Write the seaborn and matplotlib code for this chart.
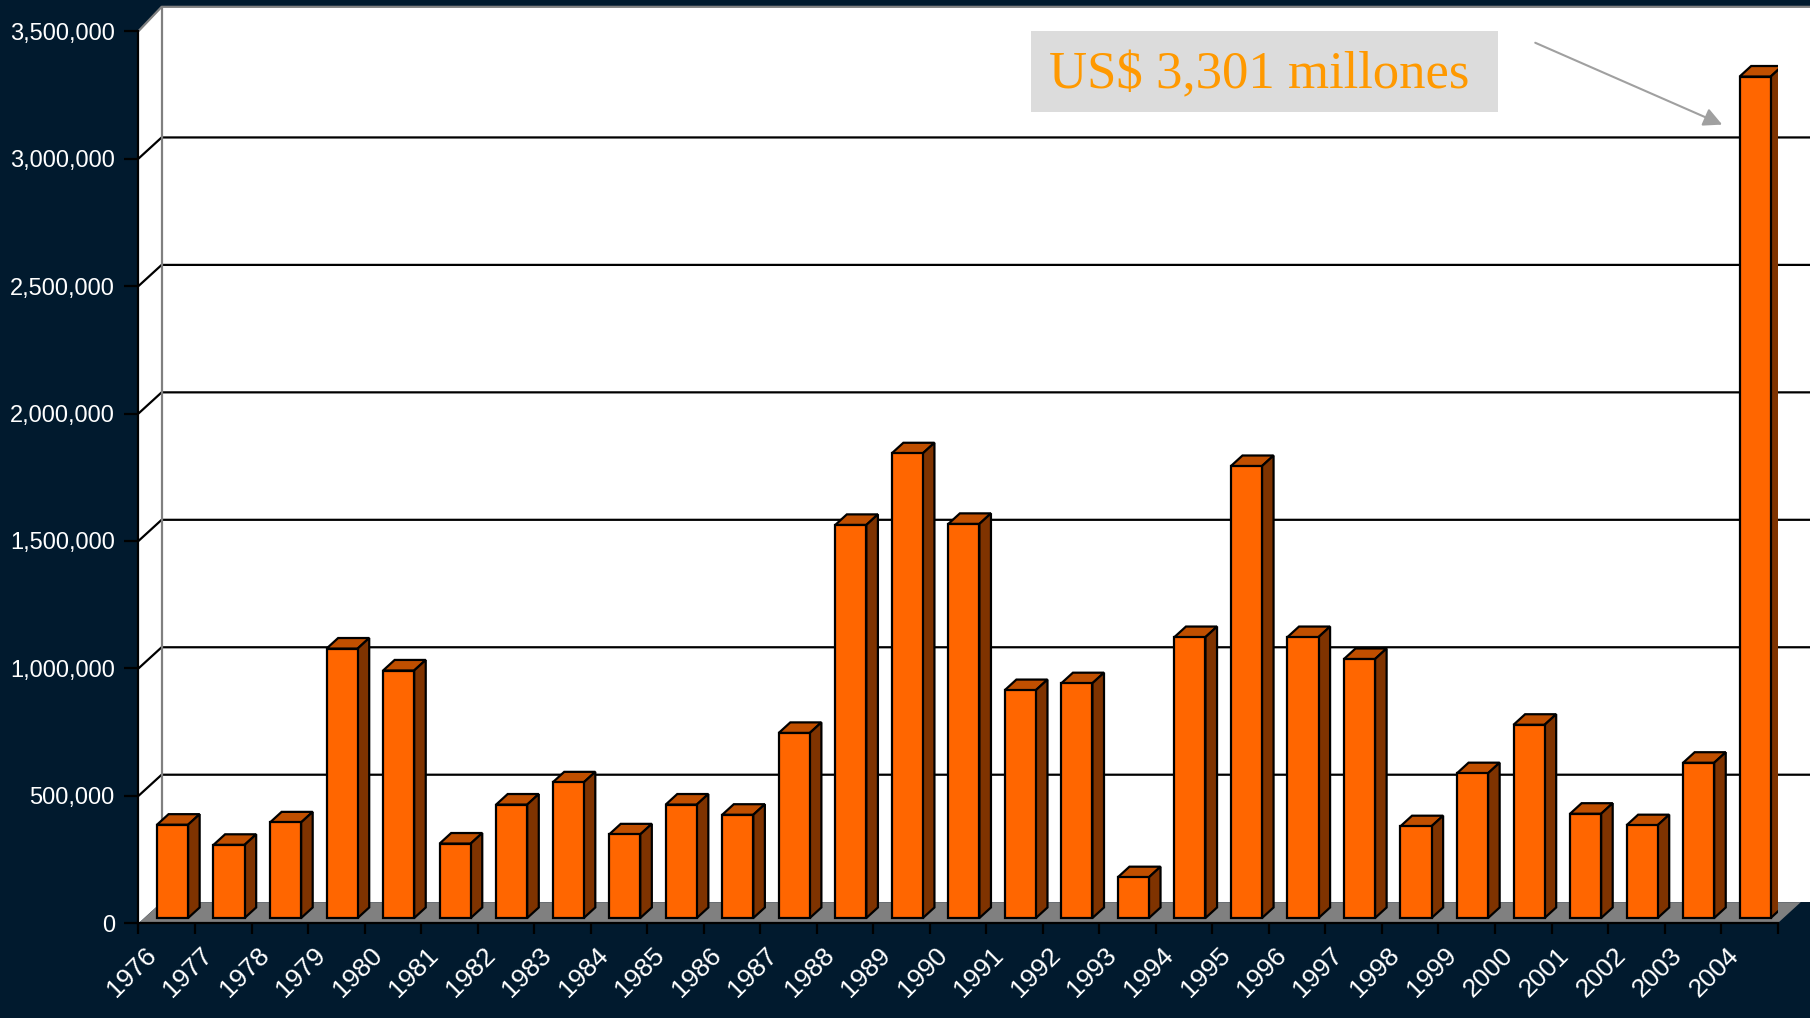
#%%
import matplotlib
matplotlib.use("Agg")
import matplotlib.pyplot as plt
import matplotlib.transforms as mtransforms
from matplotlib.patches import Polygon, Rectangle, FancyArrowPatch
import seaborn as sns
import numpy as np
import pandas as pd

#%%
# values (US$ thousands per year)
years = ["1976", "1977", "1978", "1979", "1980", "1981", "1982", "1983", "1984", "1985",
         "1986", "1987", "1988", "1989", "1990", "1991", "1992", "1993", "1994", "1995",
         "1996", "1997", "1998", "1999", "2000", "2001", "2002", "2003", "2004"]
values = [366000, 287000, 375000, 1057000, 971000, 292000, 445000, 532000, 328000, 445000,
          405000, 726000, 1542000, 1823000, 1546000, 894000, 921000, 160000, 1102000, 1773000,
          1102000, 1016000, 360000, 568000, 758000, 409000, 364000, 609000, 3301000]
yticks = [0, 500000, 1000000, 1500000, 2000000, 2500000, 3000000, 3500000]
ytick_labels = ["0", "500,000", "1,000,000", "1,500,000", "2,000,000", "2,500,000",
                "3,000,000", "3,500,000"]
note_text = "US$ 3,301 millones"

df = pd.DataFrame({"year": years, "value": values})

#%%
sns.set_theme(style="white")
plt.rcParams['font.family'] = ['Liberation Sans', 'DejaVu Sans']

bg = "#011a2e"
front = "#ff6600"
top_c = "#c04f00"
side_c = "#7f3300"
edge_lw = 1.6

fig = plt.figure(figsize=(18.1, 10.18), dpi=100, facecolor=bg)
ax = fig.add_axes([0.0765, 0.0930, 0.9056, 0.8764])
ax.set_facecolor("none")

sns.barplot(data=df, x="year", y="value", color=front, saturation=1, width=0.55,
            edgecolor="black", linewidth=edge_lw, ax=ax, zorder=4)
bars = list(ax.patches)

n = len(years)
ymax = yticks[-1]
dx, dy = 0.41, 83000      # depth of the fake 3d box in data units
xl, xr = -0.5, n - 0.5
ax.set_xlim(xl, xr)
ax.set_ylim(0, ymax)

#%%
# walls and floor
ax.add_patch(Polygon([(xl, 0), (xl + dx, dy), (xl + dx, ymax + dy * 1.15), (xl, ymax)],
                     fc="white", ec="none", zorder=0.5, clip_on=False))
ax.add_patch(Polygon([(xl + dx, dy), (xr + 2, dy), (xr + 2, ymax + dy * 1.15),
                      (xl + dx, ymax + dy * 1.15)],
                     fc="white", ec="none", zorder=0.5, clip_on=False))
for t in yticks[1:-1]:
    ax.plot([xl, xl + dx, xr + 2], [t, t + dy, t + dy], color="black", lw=edge_lw,
            zorder=1, clip_on=False)
ax.plot([xl, xl + dx, xr + 2], [ymax, ymax + dy * 1.15, ymax + dy * 1.15], color="#808080",
        lw=edge_lw, zorder=1, clip_on=False)
ax.plot([xl + dx, xl + dx], [dy, ymax + dy * 1.15], color="#808080", lw=edge_lw, zorder=1,
        clip_on=False)
ax.add_patch(Polygon([(xl, 0), (xr, 0), (xr + dx, dy), (xl + dx, dy)],
                     fc="#808080", ec="none", zorder=1.5, clip_on=False))

# push the bars into the middle of the box and add top/side faces
for p in bars:
    p.set_x(p.get_x() + dx / 4)
    p.set_y(dy / 4)
    x0, x1 = p.get_x(), p.get_x() + p.get_width()
    y0, y1 = p.get_y(), p.get_y() + p.get_height()
    top = [(x0, y1), (x0 + dx / 2, y1 + dy / 2), (x1 + dx / 2, y1 + dy / 2), (x1, y1)]
    side = [(x1, y0), (x1 + dx / 2, y0 + dy / 2), (x1 + dx / 2, y1 + dy / 2), (x1, y1)]
    ax.add_patch(Polygon(top, fc=top_c, ec="black", lw=edge_lw, zorder=3, joinstyle="miter"))
    ax.add_patch(Polygon(side, fc=side_c, ec="black", lw=edge_lw, zorder=3, joinstyle="miter"))

#%%
for s in ["top", "right"]:
    ax.spines[s].set_visible(False)
for s in ["left", "bottom"]:
    ax.spines[s].set_color("black")
    ax.spines[s].set_linewidth(edge_lw)
    ax.spines[s].set_zorder(2)

ax.set_xlabel("")
ax.set_ylabel("")
ax.set_yticks(yticks, ytick_labels)
ax.tick_params(axis="y", direction="out", left=True, length=10, width=edge_lw,
               color="black", labelcolor="white", labelsize=17, pad=7)
ax.set_xticks(np.arange(n + 1) - 0.5, minor=True)
ax.tick_params(axis="x", which="major", bottom=True, length=0, pad=14,
               labelcolor="white", labelsize=19)
ax.tick_params(axis="x", which="minor", bottom=True, direction="out", length=8,
               width=edge_lw, color="black")
shift = mtransforms.ScaledTranslation(-0.23, 0, fig.dpi_scale_trans)
for lab in ax.get_xticklabels():
    lab.set_rotation(45)
    lab.set_ha("right")
    lab.set_va("top")
    lab.set_rotation_mode("anchor")
    lab.set_transform(lab.get_transform() + shift)

#%%
# callout for the last year
fig.add_artist(Rectangle((0.5695, 0.8900), 0.2583, 0.0794, transform=fig.transFigure,
                         fc="#dcdcdc", ec="none", zorder=1))
fig.text(0.6958, 0.9255, note_text, family=["Liberation Serif", "DejaVu Serif"], size=38,
         color="#ff9900", ha="center", va="center", zorder=2)
fig.add_artist(FancyArrowPatch((0.8482, 0.9580), (0.9515, 0.8776), transform=fig.transFigure,
                               arrowstyle="-|>", color="#a0a0a0", lw=1.5, mutation_scale=28,
                               shrinkA=0, shrinkB=0, zorder=2))

plt.savefig("out.png", dpi=100, facecolor=bg)
